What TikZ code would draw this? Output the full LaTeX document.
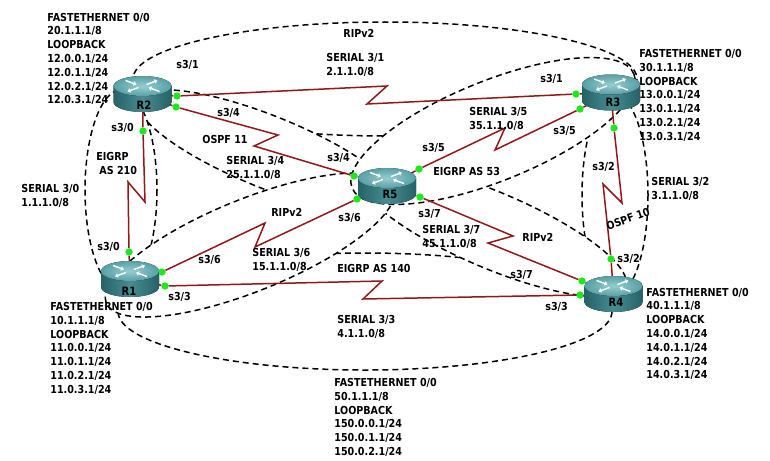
\documentclass[tikz,border=0pt]{standalone}
\usepackage{fontspec}
\newfontfamily\lblfont{DejaVu Sans}[FakeStretch=0.87]
\usetikzlibrary{arrows.meta}

\definecolor{linkred}{RGB}{145,25,25}
\definecolor{ifgreen}{RGB}{25,235,25}
\definecolor{rtop}{RGB}{150,205,208}
\definecolor{rtopdark}{RGB}{88,160,165}
\definecolor{rbody}{RGB}{70,140,145}
\definecolor{rbodydark}{RGB}{38,98,104}

\tikzset{every picture/.style={line width=0.75pt},
  zone/.style={draw=black, fill=white, line width=1.5pt, dash pattern=on 6pt off 4pt},
  serial/.style={draw=linkred, line width=1.5pt},
  ifdot/.style={circle, fill=ifgreen, inner sep=0pt, minimum size=7pt},
  lbl/.style={font=\lblfont\bfseries\fontsize{11}{13.8}\selectfont, inner sep=0pt, anchor=west},
  blk/.style={lbl, anchor=north west, align=left},
  rname/.style={font=\lblfont\bfseries\fontsize{11.5}{13}\selectfont, inner sep=0pt},
  rarrow/.style={white, line width=1.4pt, -{Triangle[length=3pt,width=4.5pt]}},
  router/.pic={
    \fill[left color=rbodydark, right color=rbodydark, middle color=rbody] (-29,-8) -- (-29,8) arc[start angle=180, end angle=0, x radius=29, y radius=10] -- (29,-8) -- cycle;
    \fill[inner color=rtop, outer color=rtopdark] (0,-8) ellipse [x radius=29, y radius=10];
    \draw[rarrow] (-17,-13.5) -- (-6,-9.5);
    \draw[rarrow] (17,-2.5) -- (6,-6.5);
    \draw[rarrow] (4,-9.5) -- (15,-13.5);
    \draw[rarrow] (-4,-6.5) -- (-15,-2.5);
  }
}

\begin{document}
\begin{tikzpicture}[x=1pt,y=-1pt]
\fill[white, use as bounding box] (0,0) rectangle (770,460);

%Shape: Ellipse RIPv2 R2-R3
\draw[zone] (385,79) ellipse [x radius=252, y radius=57];
%Shape: Ellipse EIGRP AS 140 R1-R4
\draw[zone] (365,311.5) ellipse [x radius=247, y radius=58.5];
%Shape: Ellipse OSPF 11 R2-R5
\draw[zone, rotate around={-22:(268,152)}] (268,152) ellipse [x radius=140, y radius=36];
%Shape: Ellipse EIGRP AS 210 R1-R2
\draw[zone] (121,190) ellipse [x radius=36, y radius=100];
%Shape: Ellipse OSPF 10 R3-R4
\draw[zone] (615,195) ellipse [x radius=33, y radius=100];
%Shape: Ellipse RIPv2 R5-R4
\draw[zone, rotate around={-23:(492,230)}] (492,230) ellipse [x radius=145, y radius=38];
%Shape: Ellipse RIPv2 R1-R5
\draw[zone, rotate around={22:(250,245)}] (250,245) ellipse [x radius=155, y radius=46];
%Shape: Ellipse EIGRP AS 53 R5-R3
\draw[zone, rotate around={22:(493,131)}] (493,131) ellipse [x radius=152, y radius=50];

% router centres
\coordinate (R2c) at (142.5,94);
\coordinate (R3c) at (611,92.5);
\coordinate (R5c) at (387,186);
\coordinate (R1c) at (130,279);
\coordinate (R4c) at (613.5,294);

% interfaces
\node[ifdot] (d2a) at (177,96) {};
\node[ifdot] (d2b) at (176,107) {};
\node[ifdot] (d2c) at (143,131) {};
\node[ifdot] (d3a) at (576,94) {};
\node[ifdot] (d3b) at (580,109) {};
\node[ifdot] (d3c) at (614,128) {};
\node[ifdot] (d5a) at (354,176) {};
\node[ifdot] (d5b) at (357,199) {};
\node[ifdot] (d5c) at (419,169) {};
\node[ifdot] (d5d) at (420,197) {};
\node[ifdot] (d1a) at (129,252) {};
\node[ifdot] (d1b) at (162,272) {};
\node[ifdot] (d1c) at (165,286) {};
\node[ifdot] (d4a) at (611,259) {};
\node[ifdot] (d4b) at (582,281) {};
\node[ifdot] (d4c) at (580,295) {};

% zigzag corners
\coordinate (z23a) at (387,86);  \coordinate (z23b) at (367,104);
\coordinate (z25a) at (278,135); \coordinate (z25b) at (254,146);
\coordinate (z53a) at (505,128); \coordinate (z53b) at (495,150);
\coordinate (z21a) at (145,202); \coordinate (z21b) at (128,182);
\coordinate (z15a) at (265,223); \coordinate (z15b) at (255,247);
\coordinate (z14a) at (382,281); \coordinate (z14b) at (363,299);
\coordinate (z54a) at (513,236); \coordinate (z54b) at (488,243);
\coordinate (z34a) at (622,203); \coordinate (z34b) at (603,184);

%Serial links
\draw[serial] (R2c) -- (d2a) -- (z23a) -- (z23b) -- (d3a) -- (R3c);
\draw[serial] (R2c) -- (d2b) -- (z25a) -- (z25b) -- (d5a) -- (R5c);
\draw[serial] (R5c) -- (d5c) -- (z53a) -- (z53b) -- (d3b) -- (R3c);
\draw[serial] (R2c) -- (d2c) -- (z21a) -- (z21b) -- (d1a) -- (R1c);
\draw[serial] (R1c) -- (d1b) -- (z15a) -- (z15b) -- (d5b) -- (R5c);
\draw[serial] (R1c) -- (d1c) -- (z14a) -- (z14b) -- (d4c) -- (R4c);
\draw[serial] (R5c) -- (d5d) -- (z54a) -- (z54b) -- (d4b) -- (R4c);
\draw[serial] (R3c) -- (d3c) -- (z34a) -- (z34b) -- (d4a) -- (R4c);

%Routers
\pic at (R2c) {router};
\pic at (R3c) {router};
\pic at (R5c) {router};
\pic at (R1c) {router};
\pic at (R4c) {router};
\node[rname] (R2) at (144,105) {R2};
\node[rname] (R3) at (613,102) {R3};
\node[rname] (R5) at (390,194) {R5};
\node[rname] (R1) at (129,291) {R1};
\node[rname] (R4) at (616,302) {R4};

% interfaces again on top
\foreach \d in {d2a,d2b,d2c,d3a,d3b,d3c,d5a,d5b,d5c,d5d,d1a,d1b,d1c,d4a,d4b,d4c}
  \fill[ifgreen] (\d) circle (3.5);

% Text Node router addresses
\node[blk] (t2) at (47,12.5) {FASTETHERNET 0/0\\20.1.1.1/8\\LOOPBACK\\12.0.0.1/24\\12.0.1.1/24\\12.0.2.1/24\\12.0.3.1/24};
\node[blk] (t3) at (639,49) {FASTETHERNET 0/0\\30.1.1.1/8\\LOOPBACK\\13.0.0.1/24\\13.0.1.1/24\\13.0.2.1/24\\13.0.3.1/24};
\node[blk] (t1) at (50,302) {FASTETHERNET 0/0\\10.1.1.1/8\\LOOPBACK\\11.0.0.1/24\\11.0.1.1/24\\11.0.2.1/24\\11.0.3.1/24};
\node[blk] (t4) at (646,287.5) {FASTETHERNET 0/0\\40.1.1.1/8\\LOOPBACK\\14.0.0.1/24\\14.0.1.1/24\\14.0.2.1/24\\14.0.3.1/24};
\node[blk] (t5) at (334,378) {FASTETHERNET 0/0\\50.1.1.1/8\\LOOPBACK\\150.0.0.1/24\\150.0.1.1/24\\150.0.2.1/24};

% Text Node link subnets
\node[blk] (n23) at (326,53) {SERIAL 3/1\\2.1.1.0/8};
\node[blk] (n25) at (226,156) {SERIAL 3/4\\25.1.1.0/8};
\node[blk] (n21) at (21,184) {SERIAL 3/0\\1.1.1.0/8};
\node[blk] (n15) at (252,248) {SERIAL 3/6\\15.1.1.0/8};
\node[blk] (n14) at (337,315) {SERIAL 3/3\\4.1.1.0/8};
\node[blk] (n54) at (422,225) {SERIAL 3/7\\45.1.1.0/8};
\node[blk] (n53) at (469,107) {SERIAL 3/5\\35.1.1.0/8};
\node[blk] (n34) at (651,177) {SERIAL 3/2\\3.1.1.0/8};

% Text Node protocols
\node[lbl] (p23) at (343,33) {RIPv2};
\node[lbl] (p25) at (202,139) {OSPF 11};
\node[blk] (p21) at (96,152) {EIGRP\\\hspace{3pt}AS 210};
\node[lbl] (p15) at (271,212) {RIPv2};
\node[lbl] (p14) at (337,268) {EIGRP AS 140};
\node[lbl] (p54) at (522,237) {RIPv2};
\node[lbl] (p53) at (433,171) {EIGRP AS 53};
\node[lbl, anchor=center, rotate=20] (p34) at (628,219) {OSPF 10};

% Text Node interface names
\node[lbl] (i2a) at (176,65) {s3/1};
\node[lbl] (i3a) at (540,79) {s3/1};
\node[lbl] (i2b) at (217,113) {s3/4};
\node[lbl] (i5a) at (327,158) {s3/4};
\node[lbl] (i2c) at (111,128) {s3/0};
\node[lbl] (i1a) at (97,247) {s3/0};
\node[lbl] (i1b) at (198,260) {s3/6};
\node[lbl] (i5b) at (338,218) {s3/6};
\node[lbl] (i1c) at (168,297) {s3/3};
\node[lbl] (i4c) at (545,307) {s3/3};
\node[lbl] (i5d) at (418,214) {s3/7};
\node[lbl] (i4b) at (510,275) {s3/7};
\node[lbl] (i5c) at (422,148) {s3/5};
\node[lbl] (i3b) at (553,131) {s3/5};
\node[lbl] (i3c) at (592,167) {s3/2};
\node[lbl] (i4a) at (617,259) {s3/2};
\end{tikzpicture}
\end{document}
